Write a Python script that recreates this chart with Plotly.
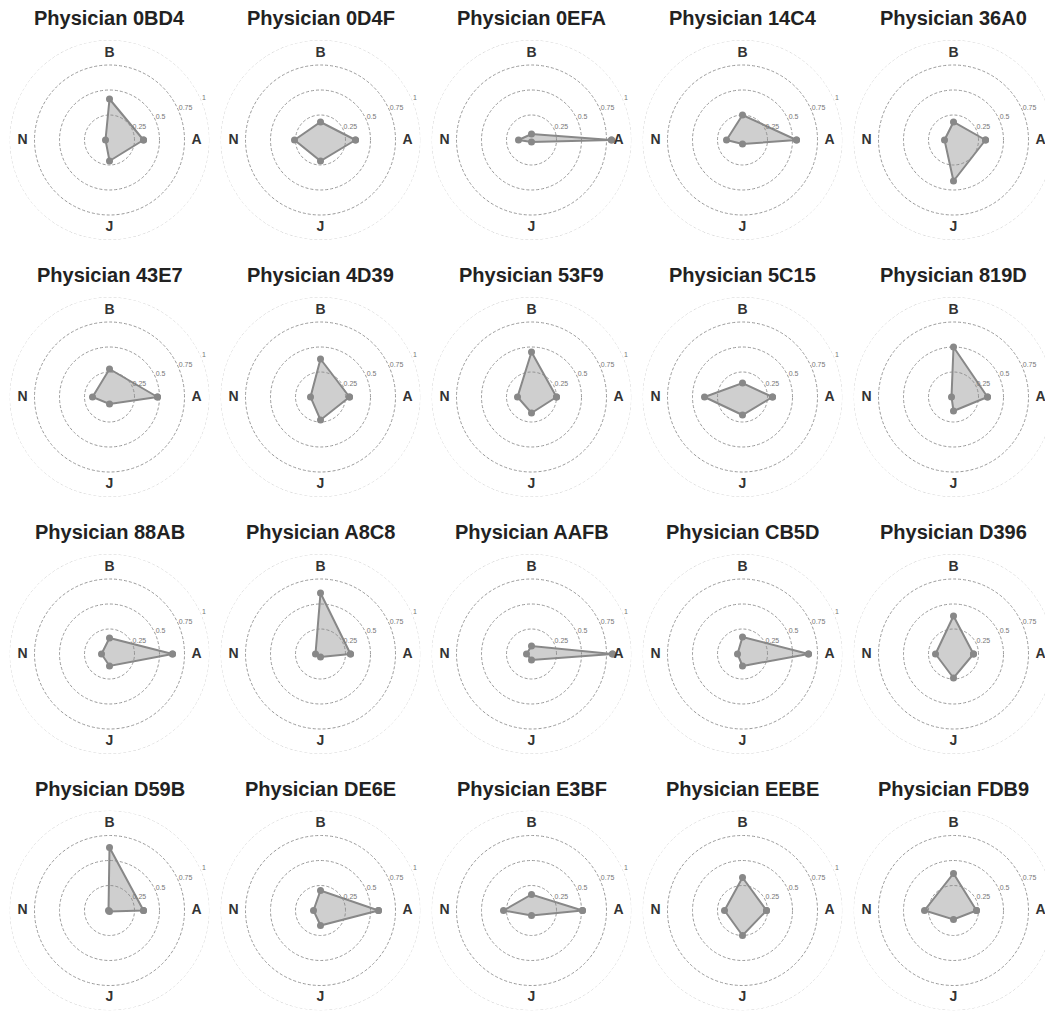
import plotly.graph_objects as go

physicians = ["0BD4", "0D4F", "0EFA", "14C4", "36A0",
              "43E7", "4D39", "53F9", "5C15", "819D",
              "88AB", "A8C8", "AAFB", "CB5D", "D396",
              "D59B", "DE6E", "E3BF", "EEBE", "FDB9"]
categories = ["A", "B", "N", "J"]
a_vals = [0.34, 0.35, 0.80, 0.54, 0.32,
          0.48, 0.29, 0.25, 0.30, 0.34,
          0.63, 0.30, 0.81, 0.66, 0.20,
          0.34, 0.58, 0.51, 0.24, 0.23]
b_vals = [0.41, 0.18, 0.06, 0.25, 0.18,
          0.28, 0.38, 0.45, 0.14, 0.50,
          0.16, 0.61, 0.08, 0.17, 0.38,
          0.63, 0.20, 0.16, 0.33, 0.37]
n_vals = [0.04, 0.26, 0.13, 0.16, 0.09,
          0.17, 0.10, 0.14, 0.38, 0.02,
          0.08, 0.05, 0.05, 0.05, 0.18,
          0.01, 0.07, 0.28, 0.18, 0.29]
j_vals = [0.21, 0.21, 0.02, 0.04, 0.41,
          0.07, 0.23, 0.16, 0.18, 0.14,
          0.12, 0.03, 0.06, 0.12, 0.24,
          0.01, 0.15, 0.05, 0.25, 0.09]
tick_values = [0.25, 0.5, 0.75, 1.0]
tick_labels = ["0.25", "0.5", "0.75", "1"]

W, H = 1054, 1011
R = 100
col_cx = [109.5 + 211 * i for i in range(5)]
row_cy = [140, 397, 654, 910.5]
angle_of = {"A": 0, "B": 90, "N": 180, "J": 270}
thetas = [angle_of[c] for c in categories]
ring_theta = list(range(0, 361, 2))

fig = go.Figure()
layout_updates = {}
annotations = []
for k, name in enumerate(physicians):
    row, col = divmod(k, 5)
    cx, cy = col_cx[col], row_cy[row]
    pid = "polar" if k == 0 else f"polar{k + 1}"
    x0 = max(0, (cx - R) / W)
    x1 = min(1, (cx + R) / W)
    y0 = max(0, 1 - (cy + R) / H)
    y1 = min(1, 1 - (cy - R) / H)
    layout_updates[pid] = dict(
        domain=dict(x=[x0, x1], y=[y0, y1]),
        bgcolor="white",
        radialaxis=dict(range=[0, 1], tickvals=[0.25, 0.5, 0.75],
                        showticklabels=False, ticks="", showline=False,
                        gridcolor="#9a9a9a", griddash="3px,2px", gridwidth=1),
        angularaxis=dict(thetaunit="degrees", rotation=0, direction="counterclockwise",
                         showgrid=False, showline=False, showticklabels=False, ticks=""),
    )
    fig.add_trace(go.Scatterpolar(
        r=[1] * len(ring_theta), theta=ring_theta, mode="lines",
        line=dict(color="#cfcfcf", width=1, dash="3px,2px"),
        subplot=pid, showlegend=False, hoverinfo="skip", cliponaxis=False))
    vals = [a_vals[k], b_vals[k], n_vals[k], j_vals[k]]
    fig.add_trace(go.Scatterpolar(
        r=vals + [vals[0]], theta=thetas + [thetas[0]],
        mode="lines+markers", fill="toself",
        fillcolor="rgba(136,136,136,0.4)",
        line=dict(color="#888888", width=2),
        marker=dict(color="#888888", size=7),
        subplot=pid, showlegend=False, name=f"Physician {name}"))
    fig.add_trace(go.Scatterpolar(
        r=tick_values, theta=[22.5] * len(tick_values), mode="text",
        text=tick_labels, textposition="top right", marker=dict(size=0),
        textfont=dict(size=7, color="#777777", family="Liberation Sans, Arial, sans-serif"),
        subplot=pid, showlegend=False, hoverinfo="skip", cliponaxis=False))
    fig.add_trace(go.Scatterpolar(
        r=[0.87] * len(categories), theta=thetas, mode="text",
        text=categories, textposition="middle center",
        textfont=dict(size=14, color="#333333", family="Liberation Sans, Arial, sans-serif",
                      weight="bold"),
        subplot=pid, showlegend=False, hoverinfo="skip", cliponaxis=False))
    annotations.append(dict(
        text=f"<b>Physician {name}</b>", x=cx / W, y=1 - (cy - 122) / H,
        xref="paper", yref="paper", showarrow=False, xanchor="center", yanchor="middle",
        font=dict(size=20, color="#222222", family="Liberation Sans, Arial, sans-serif")))

fig.update_layout(
    width=W, height=H,
    margin=dict(l=0, r=0, t=0, b=0),
    paper_bgcolor="white",
    plot_bgcolor="white",
    annotations=annotations,
    showlegend=False,
    **layout_updates,
)
fig.write_html(
    "out.html",
    config={"displayModeBar": False},
    post_script=("document.body.style.margin='0';"
                 "document.body.style.overflow='hidden';"
                 "document.documentElement.style.overflow='hidden';"),
)
